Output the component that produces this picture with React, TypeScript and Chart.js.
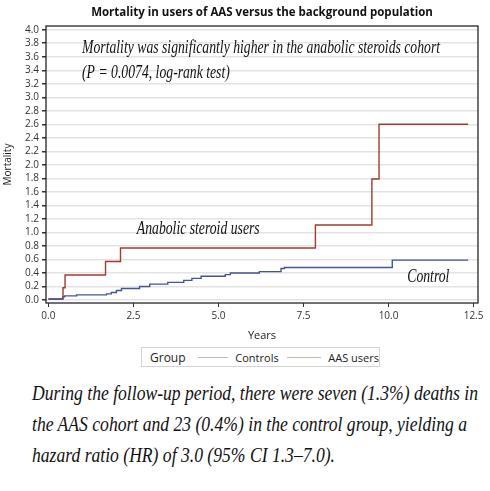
import React, { useEffect, useRef } from 'react';
import { Chart, registerables, Plugin, ChartConfiguration } from 'chart.js';

Chart.register(...registerables);

// Kaplan-Meier style cumulative mortality (%)
const controlTimes = [0, 0.42, 0.48, 0.83, 1.71, 1.85, 2.0, 2.15, 2.68, 2.98, 3.51, 3.98, 4.22, 4.49, 5.2, 5.35, 6.2, 6.84, 6.94, 10.11];
const controlMortality = [0.015, 0.045, 0.06, 0.075, 0.09, 0.11, 0.14, 0.17, 0.2, 0.235, 0.26, 0.29, 0.32, 0.35, 0.375, 0.4, 0.42, 0.465, 0.48, 0.59];
const aasTimes = [0, 0.43, 0.49, 1.68, 2.12, 7.85, 9.51, 9.72];
const aasMortality = [0.015, 0.18, 0.37, 0.57, 0.77, 1.11, 1.79, 2.6];
const followUpEnd = 12.34;

const xTickValues = [0, 2.5, 5, 7.5, 10, 12.5];
const yTickValues = [0, 0.2, 0.4, 0.6, 0.8, 1.0, 1.2, 1.4, 1.6, 1.8, 2.0, 2.2, 2.4, 2.6, 2.8, 3.0, 3.2, 3.4, 3.6, 3.8, 4.0];

const seriesNames = ['Controls', 'AAS users'];
const seriesColors = ['#445694', '#a23a2e'];

const notes = [
  { x: 0.99, y: 3.73, text: 'Mortality was significantly higher in the anabolic steroids cohort' },
  { x: 0.99, y: 3.36, text: '(P = 0.0074, log-rank test)' },
  { x: 2.6, y: 1.04, text: 'Anabolic steroid users' },
  { x: 10.55, y: 0.33, text: 'Control' },
];

const summaryLines = [
  'During the follow-up period, there were seven (1.3%) deaths in',
  'the AAS cohort and 23 (0.4%) in the control group, yielding a',
  'hazard ratio (HR) of 3.0 (95% CI 1.3–7.0).',
];

const uiFont = '"Open Sans", "DejaVu Sans", sans-serif';
const handFont = '"Liberation Serif", serif';

const toPoints = (times: number[], values: number[]) => [
  ...times.map((t, i) => ({ x: t, y: values[i] })),
  { x: followUpEnd, y: values[values.length - 1] },
];

const framePlugin: Plugin<'line'> = {
  id: 'frame',
  afterDraw(chart) {
    const { ctx, chartArea: a } = chart;
    ctx.save();
    ctx.strokeStyle = '#262626';
    ctx.lineWidth = 1.3;
    ctx.strokeRect(a.left, a.top, a.right - a.left, a.bottom - a.top);
    ctx.restore();
  },
};

const notesPlugin: Plugin<'line'> = {
  id: 'notes',
  afterDatasetsDraw(chart) {
    const { ctx, scales } = chart;
    ctx.save();
    ctx.font = `italic 18px ${handFont}`;
    ctx.fillStyle = '#111';
    ctx.textBaseline = 'middle';
    const k = 358 / ctx.measureText(notes[0].text).width;
    notes.forEach((n) => {
      ctx.save();
      ctx.translate(scales.x.getPixelForValue(n.x), scales.y.getPixelForValue(n.y));
      ctx.scale(k, 1);
      ctx.fillText(n.text, 0, 0);
      ctx.restore();
    });
    ctx.restore();
  },
};

export default function App() {
  const canvasRef = useRef<HTMLCanvasElement>(null);
  const textRef = useRef<HTMLDivElement>(null);
  const firstLineRef = useRef<HTMLSpanElement>(null);

  useEffect(() => {
    // squeeze the summary so its first line is as wide as in the figure
    if (textRef.current && firstLineRef.current) {
      const w = firstLineRef.current.getBoundingClientRect().width;
      if (w > 0) textRef.current.style.transform = `scaleX(${446 / w})`;
    }
  }, []);

  useEffect(() => {
    if (!canvasRef.current) return;
    const config: ChartConfiguration<'line'> = {
      type: 'line',
      data: {
        datasets: [
          {
            label: seriesNames[0],
            data: toPoints(controlTimes, controlMortality),
            borderColor: seriesColors[0],
            borderWidth: 1.4,
            pointRadius: 0,
            stepped: true,
          },
          {
            label: seriesNames[1],
            data: toPoints(aasTimes, aasMortality),
            borderColor: seriesColors[1],
            borderWidth: 1.4,
            pointRadius: 0,
            stepped: true,
          },
        ],
      },
      options: {
        responsive: false,
        animation: false,
        layout: { padding: { left: 0, right: 12, top: 0, bottom: 0 } },
        plugins: {
          legend: { display: false },
          tooltip: { enabled: false },
          title: {
            display: true,
            text: 'Mortality in users of AAS versus the background population',
            fullSize: false,
            color: '#111',
            font: { family: uiFont, size: 11.5, weight: 'bold' },
            padding: { top: 6, bottom: 6.2 },
          },
        },
        scales: {
          x: {
            type: 'linear',
            min: -0.07,
            max: 12.63,
            afterBuildTicks: (s) => {
              s.ticks = xTickValues.map((v) => ({ value: v }));
            },
            afterFit: (s) => {
              s.height = 39;
            },
            border: { display: false },
            grid: { drawOnChartArea: false, drawTicks: true, tickLength: 4, tickColor: '#333' },
            ticks: {
              color: '#333',
              font: { family: uiFont, size: 10 },
              padding: 3,
              maxRotation: 0,
              autoSkip: false,
              callback: (v) => Number(v).toFixed(1),
            },
            title: {
              display: true,
              text: 'Years',
              color: '#222',
              font: { family: uiFont, size: 11 },
              padding: 0,
            },
          },
          y: {
            type: 'linear',
            min: -0.045,
            max: 4.055,
            afterBuildTicks: (s) => {
              s.ticks = yTickValues.map((v) => ({ value: v }));
            },
            afterFit: (s) => {
              s.width = 46;
            },
            border: { display: false },
            grid: { color: '#e3e3e3', lineWidth: 1.5, drawTicks: true, tickLength: 4, tickColor: '#333' },
            ticks: {
              color: '#333',
              font: { family: uiFont, size: 10 },
              padding: 3,
              autoSkip: false,
              callback: (v) => Number(v).toFixed(1),
            },
            title: {
              display: true,
              text: 'Mortality',
              color: '#222',
              font: { family: uiFont, size: 10 },
              padding: { top: 2, bottom: 0 },
            },
          },
        },
      },
      plugins: [framePlugin, notesPlugin],
    };
    const chart = new Chart(canvasRef.current, config);
    return () => chart.destroy();
  }, []);

  return (
    <div style={{ position: 'absolute', left: 0, top: 0, width: 490, height: 491, background: '#fff', overflow: 'hidden' }}>
      <canvas ref={canvasRef} width={490} height={342} style={{ position: 'absolute', left: 0, top: 0, width: 490, height: 342 }} />
      <div
        style={{
          position: 'absolute',
          left: 141,
          top: 347,
          width: 237,
          height: 18,
          border: '1px solid #d4d4d4',
          fontFamily: uiFont,
          fontSize: 11,
          color: '#222',
          display: 'flex',
          alignItems: 'center',
          whiteSpace: 'nowrap',
        }}
      >
        <span style={{ marginLeft: 8, fontSize: 12 }}>Group</span>
        <span style={{ display: 'inline-block', width: 32, height: 0, borderTop: `1px solid ${seriesColors[0]}`, opacity: 0.4, marginLeft: 12 }} />
        <span style={{ marginLeft: 7 }}>{seriesNames[0]}</span>
        <span style={{ display: 'inline-block', width: 36, height: 0, borderTop: `1px solid ${seriesColors[1]}`, opacity: 0.4, marginLeft: 8 }} />
        <span style={{ marginLeft: 7 }}>{seriesNames[1]}</span>
      </div>
      <div
        ref={textRef}
        style={{
          position: 'absolute',
          left: 32,
          top: 378,
          fontFamily: handFont,
          fontStyle: 'italic',
          fontSize: 20,
          lineHeight: '31px',
          color: '#111',
          whiteSpace: 'nowrap',
          transformOrigin: 'left top',
        }}
      >
        {summaryLines.map((line, i) => (
          <div key={line}>
            <span ref={i === 0 ? firstLineRef : undefined}>{line}</span>
          </div>
        ))}
      </div>
    </div>
  );
}
